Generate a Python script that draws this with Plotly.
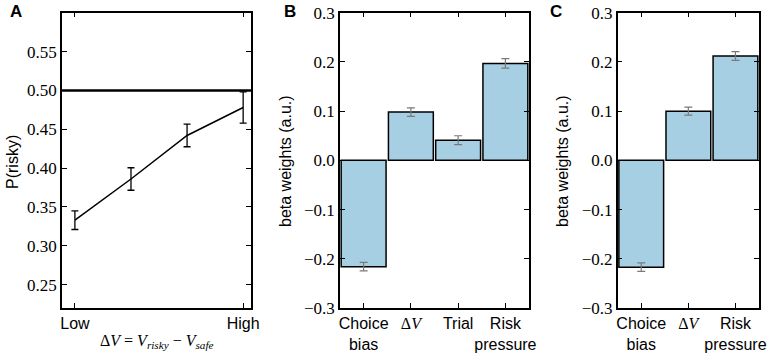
import plotly.graph_objects as go

# Panel A data
a_x = [0, 1, 2, 3]
a_p = [0.333, 0.386, 0.442, 0.478]
a_err = [0.012, 0.0145, 0.0145, 0.02]
a_ticklabels = ["Low", "High"]

# Panel B data
b_cats = ["Choice bias", "dV", "Trial", "Risk pressure"]
b_vals = [-0.216, 0.098, 0.041, 0.197]
b_err = [0.0085, 0.0085, 0.009, 0.0095]

# Panel C data
c_cats = ["Choice bias", "dV", "Risk pressure"]
c_vals = [-0.217, 0.100, 0.212]
c_err = [0.0085, 0.008, 0.009]

label_map = {
    "Choice bias": "Choice<br>bias",
    "dV": "<span style='font-family:Liberation Serif'>Δ<i>V</i></span>",
    "Trial": "Trial",
    "Risk pressure": "Risk<br>pressure",
}

SANS = "Liberation Sans, Arial, sans-serif"
SERIF = "Liberation Serif"
BAR = "#a6cfe3"
W, H = 772, 355

def px_x(a, b):
    return [a / W, b / W]

ydom = [1 - 308 / H, 1 - 12.7 / H]

fig = go.Figure()

fig.add_trace(go.Scatter(
    x=a_x, y=a_p, mode="lines",
    line=dict(color="black", width=1.5),
    error_y=dict(type="data", array=a_err, color="black", thickness=1.3, width=3.5),
    xaxis="x", yaxis="y", showlegend=False))

fig.add_trace(go.Bar(
    x=b_cats, y=b_vals, width=0.95,
    marker=dict(color=BAR, line=dict(color="black", width=1.5)),
    error_y=dict(type="data", array=b_err, color="#7a7a7a", thickness=1.2, width=4),
    xaxis="x2", yaxis="y2", showlegend=False))

fig.add_trace(go.Bar(
    x=c_cats, y=c_vals, width=0.95,
    marker=dict(color=BAR, line=dict(color="black", width=1.5)),
    error_y=dict(type="data", array=c_err, color="#7a7a7a", thickness=1.2, width=4),
    xaxis="x3", yaxis="y3", showlegend=False))

axis_common = dict(showline=True, linecolor="black", linewidth=1.5, mirror="ticks",
                   ticks="inside", ticklen=5, tickcolor="black", tickwidth=1,
                   showgrid=False, zeroline=False, automargin=False)

yticks_beta = [-0.3, -0.2, -0.1, 0, 0.1, 0.2, 0.3]

fig.update_layout(
    width=W, height=H, margin=dict(l=0, r=0, t=0, b=0),
    paper_bgcolor="white", plot_bgcolor="white",
    bargap=0.05,
    xaxis=dict(domain=px_x(62, 251), range=[-0.23, 3.14], tickvals=[0, 3],
               ticktext=a_ticklabels, tickangle=0, tickfont=dict(family=SANS, size=16, color="black"),
               anchor="y", **axis_common),
    yaxis=dict(domain=ydom, range=[0.22, 0.60], tickvals=[0.25, 0.30, 0.35, 0.40, 0.45, 0.50, 0.55],
               tickformat=".2f", tickfont=dict(family=SERIF, size=17, color="black"),
               anchor="x", **axis_common),
    xaxis2=dict(domain=px_x(340, 529), range=[-0.5, 3.5], tickvals=b_cats,
                ticktext=[label_map[c] for c in b_cats], tickangle=0,
                tickfont=dict(family=SANS, size=16, color="black"), anchor="y2", **axis_common),
    yaxis2=dict(domain=ydom, range=[-0.3, 0.3], tickvals=yticks_beta,
                tickformat=".1f", tickfont=dict(family=SERIF, size=17, color="black"),
                anchor="x2", **axis_common),
    xaxis3=dict(domain=px_x(617.7, 759), range=[-0.5, 2.5], tickvals=c_cats,
                ticktext=[label_map[c] for c in c_cats], tickangle=0,
                tickfont=dict(family=SANS, size=16, color="black"), anchor="y3", **axis_common),
    yaxis3=dict(domain=ydom, range=[-0.3, 0.3], tickvals=yticks_beta,
                tickformat=".1f", tickfont=dict(family=SERIF, size=17, color="black"),
                anchor="x3", **axis_common),
)

fig.add_shape(type="line", xref="x domain", yref="y", x0=0, x1=1, y0=0.5, y1=0.5,
              line=dict(color="black", width=2.5))

def ann(text, xp, yp, font, angle=0):
    fig.add_annotation(text=text, x=xp / W, y=1 - yp / H, xref="paper", yref="paper",
                       showarrow=False, font=font, textangle=angle,
                       xanchor="center", yanchor="middle")

for txt, xp in [("A", 16), ("B", 290), ("C", 556)]:
    ann(f"<b>{txt}</b>", xp, 12, dict(family=SANS, size=17, color="black"))

ann("P(risky)", 12, 162, dict(family=SANS, size=16, color="black"), -90)
ann("beta weights (a.u.)", 285, 161, dict(family=SANS, size=16, color="black"), -90)
ann("beta weights (a.u.)", 562, 161, dict(family=SANS, size=16, color="black"), -90)
ann("Δ<i>V</i> = <i>V</i><sub><i>risky</i></sub> − <i>V</i><sub><i>safe</i></sub>", 157, 341,
    dict(family=SERIF, size=16, color="black"))

fig.write_html("out.html", config={"displayModeBar": False},
               post_script="document.body.style.margin='0';document.body.style.padding='0';"
                           "document.body.style.overflow='hidden';")
